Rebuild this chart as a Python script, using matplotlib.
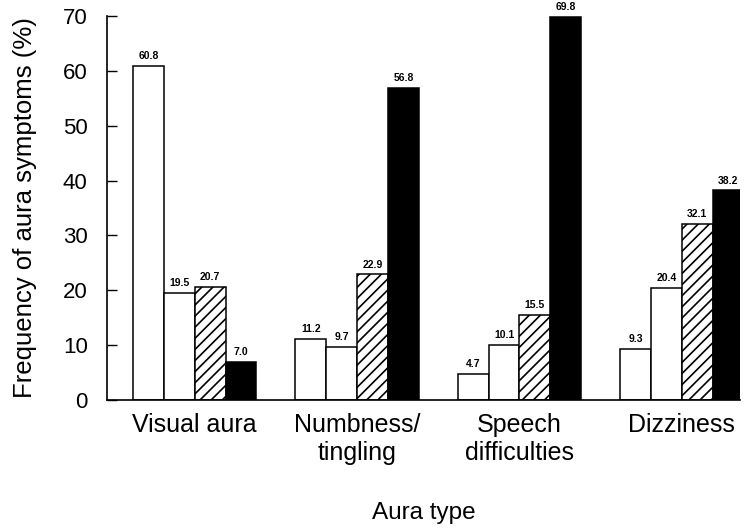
import numpy as np
import matplotlib.pyplot as plt

plt.rcParams['font.family'] = ['Liberation Sans', 'DejaVu Sans']
plt.rcParams['hatch.linewidth'] = 1.2

# Datos
categorias = ["Visual aura", "Numbness/\ntingling", "Speech\ndifficulties", "Dizziness"]
serie_1 = [60.8, 11.2, 4.7, 9.3]
serie_2 = [19.5, 9.7, 10.1, 20.4]
serie_3 = [20.7, 22.9, 15.5, 32.1]
serie_4 = [7.0, 56.8, 69.8, 38.2]
y_ticks = [0, 10, 20, 30, 40, 50, 60, 70]

series = [serie_1, serie_2, serie_3, serie_4]
estilos = [
    dict(color="white", hatch=None),
    dict(color="white", hatch=None),
    dict(color="white", hatch="///"),
    dict(color="black", hatch=None),
]

fig = plt.figure(figsize=(7.44, 5.28), dpi=100)
ax = fig.add_axes([0.144, 0.242, 0.851, 0.728])

x = np.arange(len(categorias))
ancho = 0.19
for i, (valores, est) in enumerate(zip(series, estilos)):
    pos = x + (i - 1.5) * ancho
    barras = ax.bar(pos, valores, width=ancho, color=est["color"],
                    edgecolor="black", linewidth=1.1, hatch=est["hatch"])
    for b, v in zip(barras, valores):
        ax.text(b.get_x() + b.get_width() / 2, v + 0.9, f"{v:.1f}",
                ha="center", va="bottom", fontsize=7.5, fontweight="bold")

ax.set_xlim(-0.54, 3.36)
ax.set_ylim(0, 70)
ax.set_yticks(y_ticks)
ax.tick_params(axis="y", direction="in", length=7, width=1, labelsize=16, pad=14)
ax.tick_params(axis="x", length=0, labelsize=18, pad=9)
ax.set_xticks(x)
ax.set_xticklabels(categorias)

ax.spines["top"].set_visible(False)
ax.spines["right"].set_visible(False)
ax.spines["left"].set_linewidth(1.2)
ax.spines["bottom"].set_linewidth(1.2)

ax.set_ylabel("Frequency of aura symptoms (%)", fontsize=18.5)
ax.yaxis.set_label_coords(-0.11, 0.5)
ax.set_xlabel("Aura type", fontsize=17.5)
ax.xaxis.set_label_coords(0.5, -0.265)

fig.savefig("out.png", dpi=100)
plt.close()
